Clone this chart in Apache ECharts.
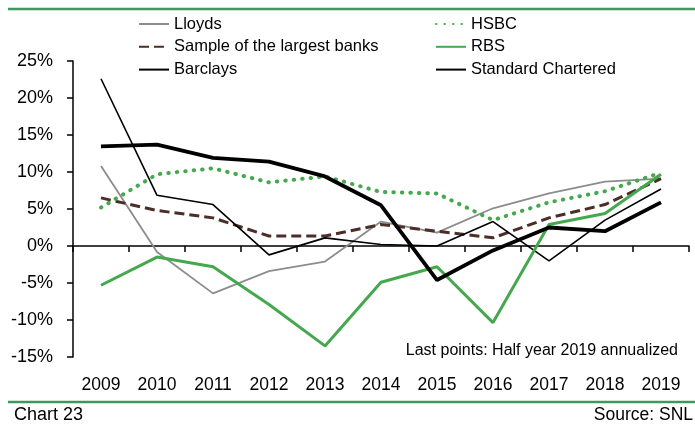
<!DOCTYPE html>
<html><head><meta charset="utf-8">
<script src="https://cdn.jsdelivr.net/npm/echarts@6/dist/echarts.min.js"></script>
<style>html,body{margin:0;padding:0;background:#fff}#c{width:695px;height:427px}</style>
</head><body><div id="c"></div>
<script>
const years = ['2009','2010','2011','2012','2013','2014','2015','2016','2017','2018','2019'];
const lloyds = [10.8, -0.8, -6.4, -3.4, -2.1, 3.3, 1.8, 5.1, 7.1, 8.7, 9.1];
const sample = [6.5, 4.8, 3.8, 1.35, 1.35, 2.9, 2.0, 1.1, 3.8, 5.6, 9.1];
const barclays = [22.6, 6.85, 5.6, -1.2, 1.1, 0.2, 0.0, 3.3, -2.0, 3.5, 7.7];
const hsbc = [5.2, 9.7, 10.5, 8.6, 9.4, 7.3, 7.1, 3.5, 5.9, 7.4, 9.9];
const rbs = [-5.3, -1.5, -2.8, -7.9, -13.5, -4.9, -2.8, -10.35, 2.9, 4.4, 9.7];
const stanChart = [13.45, 13.7, 11.9, 11.4, 9.4, 5.5, -4.6, -0.6, 2.5, 2.0, 5.9];
const yTicks = {min: -15, max: 25, step: 5};

const FONT = '"Liberation Sans", Arial, sans-serif';
const chart = echarts.init(document.getElementById('c'), null, {renderer: 'canvas'});
function s(name, data, color, width, type, extra) {
  return Object.assign({
    name, type: 'line', data, xAxisIndex: 0, symbol: 'none', showSymbol: false,
    lineStyle: {color, width, type}, itemStyle: {color}, animation: false
  }, extra || {});
}
const legendCommon = {orient: 'vertical', top: 9, itemWidth: 30, itemHeight: 14, itemGap: 2.8,
  itemStyle: {opacity: 0},
  textStyle: {fontFamily: FONT, fontSize: 16.5, color: '#000', lineHeight: 20}};
chart.setOption({
  animation: false,
  grid: {left: 73, right: 6, top: 61, bottom: 70},
  legend: [
    Object.assign({data: ['Lloyds', 'Sample of the largest banks', 'Barclays'], left: 133}, legendCommon),
    Object.assign({data: ['HSBC', 'RBS', 'Standard Chartered'], left: 430}, legendCommon)
  ],
  xAxis: [
    {type: 'category', data: years, boundaryGap: true,
     axisLine: {onZero: true, lineStyle: {color: '#000', width: 1.5}},
     axisTick: {show: true, length: 6, lineStyle: {color: '#000', width: 1.5}},
     axisLabel: {show: false}},
    {type: 'category', data: years, boundaryGap: true, position: 'bottom',
     axisLine: {show: false, onZero: false}, axisTick: {show: false},
     axisLabel: {show: true, interval: 0, margin: 19, fontFamily: FONT, fontSize: 17.5, color: '#000'}}
  ],
  yAxis: {type: 'value', min: yTicks.min, max: yTicks.max, interval: yTicks.step,
    axisLine: {show: true, lineStyle: {color: '#000', width: 1.5}},
    axisTick: {show: true, length: 6, lineStyle: {color: '#000', width: 1.5}},
    splitLine: {show: false},
    axisLabel: {formatter: '{value}%', margin: 20, fontFamily: FONT, fontSize: 18, color: '#000'}},
  series: [
    s('Lloyds', lloyds, '#8c8c8c', 1.8, 'solid'),
    s('Sample of the largest banks', sample, '#4b2e26', 3, [10, 5]),
    s('Barclays', barclays, '#000000', 1.6, 'solid'),
    s('HSBC', hsbc, '#46a84e', 3.5, [0.5, 8.5], {lineStyle: {color: '#46a84e', width: 4, type: [0.5, 8], cap: 'round'}}),
    s('RBS', rbs, '#46a84e', 3, 'solid'),
    s('Standard Chartered', stanChart, '#000000', 3.8, 'solid')
  ],
  graphic: [
    {type: 'line', shape: {x1: 8, y1: 9, x2: 695, y2: 9}, style: {stroke: '#3a9a5c', lineWidth: 2.5}},
    {type: 'line', shape: {x1: 8, y1: 402, x2: 695, y2: 402}, style: {stroke: '#3a9a5c', lineWidth: 2.5}},
    {type: 'text', left: 14, top: 406, style: {text: 'Chart 23', font: '18px ' + FONT, fill: '#000'}},
    {type: 'text', right: 2, top: 406, style: {text: 'Source: SNL', font: '17.5px ' + FONT, fill: '#000'}},
    {type: 'text', right: 17, top: 343, style: {text: 'Last points: Half year 2019 annualized', font: '16px ' + FONT, fill: '#000'}}
  ]
});
</script></body></html>
